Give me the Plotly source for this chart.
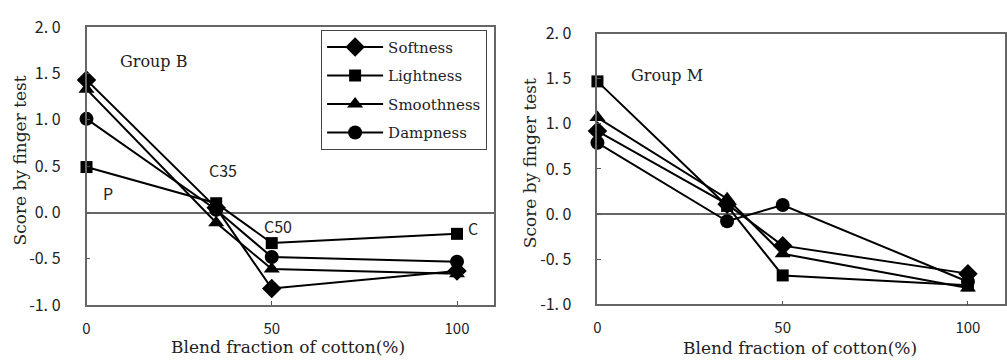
import plotly.graph_objects as go

blend = [0, 35, 50, 100]
series_names = ["Softness", "Lightness", "Smoothness", "Dampness"]
symbols = ["diamond", "square", "triangle-up", "circle"]

group_b = {
    "Softness": [1.43, 0.05, -0.82, -0.63],
    "Lightness": [0.49, 0.10, -0.33, -0.23],
    "Smoothness": [1.33, -0.11, -0.61, -0.66],
    "Dampness": [1.01, 0.03, -0.48, -0.53],
}
group_m = {
    "Softness": [0.92, 0.11, -0.35, -0.66],
    "Lightness": [1.47, 0.09, -0.68, -0.79],
    "Smoothness": [1.07, 0.17, -0.44, -0.82],
    "Dampness": [0.79, -0.08, 0.10, -0.75],
}
sample_labels = ["P", "C35", "C50", "C"]
ytick_vals = [2.0, 1.5, 1.0, 0.5, 0.0, -0.5, -1.0]
ytick_text = ["2. 0", "1. 5", "1. 0", "0. 5", "0. 0", "-0. 5", "-1. 0"]
xtick_vals = [0, 50, 100]
x_title = "Blend fraction of cotton(%)"
y_title = "Score by finger test"

W, H = 1007, 362
serif = "DejaVu Serif, Liberation Serif, serif"
gothic = "Noto Sans CJK JP, Noto Sans, sans-serif"

fig = go.Figure()
sizes = {"diamond": 15, "square": 12, "triangle-up": 14, "circle": 14}
for name, sym in zip(series_names, symbols):
    fig.add_trace(go.Scatter(
        x=blend, y=group_b[name], name=name, legendgroup=name, mode="lines+markers",
        line=dict(color="black", width=2),
        marker=dict(symbol=sym, size=sizes[sym], color="black"),
        cliponaxis=False, xaxis="x", yaxis="y", showlegend=True))
for name, sym in zip(series_names, symbols):
    fig.add_trace(go.Scatter(
        x=blend, y=group_m[name], name=name, legendgroup=name, mode="lines+markers",
        line=dict(color="black", width=2),
        marker=dict(symbol=sym, size=sizes[sym], color="black"),
        cliponaxis=False, xaxis="x2", yaxis="y2", showlegend=False))

def xa(domain):
    return dict(domain=domain, range=[0, 110], tickvals=xtick_vals,
                ticks="inside", ticklen=4, tickcolor="#555",
                showline=True, linecolor="#666", linewidth=1.5, mirror=True,
                showgrid=False, zeroline=False,
                tickfont=dict(family=gothic, size=15, color="#222"),
                ticklabelstandoff=9)

def ya(domain, anchor):
    return dict(domain=domain, range=[-1.0, 2.0], tickvals=ytick_vals,
                ticktext=ytick_text, anchor=anchor,
                ticks="inside", ticklen=4, tickcolor="#555",
                showline=True, linecolor="#666", linewidth=1.5, mirror=True,
                showgrid=False, zeroline=True, zerolinecolor="#666",
                zerolinewidth=1.5,
                tickfont=dict(family=gothic, size=16, color="#222"),
                ticklabelstandoff=21)

fig.update_layout(
    width=W, height=H, margin=dict(l=0, r=0, t=0, b=0),
    paper_bgcolor="white", plot_bgcolor="white",
    xaxis=dict(**xa([83 / W, 493 / W]), anchor="y"),
    yaxis=ya([(H - 313) / H, (H - 15) / H], "x"),
    xaxis2=dict(**xa([597 / W, 1.0]), anchor="y2"),
    yaxis2=ya([(H - 312) / H, (H - 22) / H], "x2"),
    legend=dict(x=319 / W, y=(H - 18) / H, xanchor="left", yanchor="top",
                bordercolor="#444", borderwidth=1, bgcolor="white",
                font=dict(family=serif, size=15, color="#222"),
                itemwidth=56, tracegroupgap=6, traceorder="grouped"),
)

# axis titles
title_font = dict(family=serif, size=17, color="#222")
fig.add_annotation(x=286 / W, y=(H - 358) / H, xref="paper", yref="paper",
                   xanchor="center", yanchor="middle",
                   text=x_title, showarrow=False, font=title_font)
fig.add_annotation(x=801 / W, y=(H - 359) / H, xref="paper", yref="paper",
                   xanchor="center", yanchor="middle",
                   text=x_title, showarrow=False, font=title_font)
fig.add_annotation(x=16 / W, y=(H - 158) / H, xref="paper", yref="paper",
                   xanchor="center", yanchor="middle",
                   text=y_title, showarrow=False, textangle=-90, font=title_font)
fig.add_annotation(x=529 / W, y=(H - 161) / H, xref="paper", yref="paper",
                   xanchor="center", yanchor="middle",
                   text=y_title, showarrow=False, textangle=-90, font=title_font)

label_pos = [(5.9, 0.21), (36.8, 0.46), (51.8, -0.15), (104.4, -0.17)]
for txt, (x, y) in zip(sample_labels, label_pos):
    fig.add_annotation(x=x, y=y, xref="x", yref="y", text=txt, showarrow=False,
                       font=dict(family=gothic, size=16, color="#222"))
fig.add_annotation(x=18, y=1.63, xref="x", yref="y", text="Group B", showarrow=False,
                   font=dict(family=serif, size=16, color="#222"))
fig.add_annotation(x=18.8, y=1.54, xref="x2", yref="y2", text="Group M", showarrow=False,
                   font=dict(family=serif, size=16, color="#222"))

fig.write_html("out.html")
